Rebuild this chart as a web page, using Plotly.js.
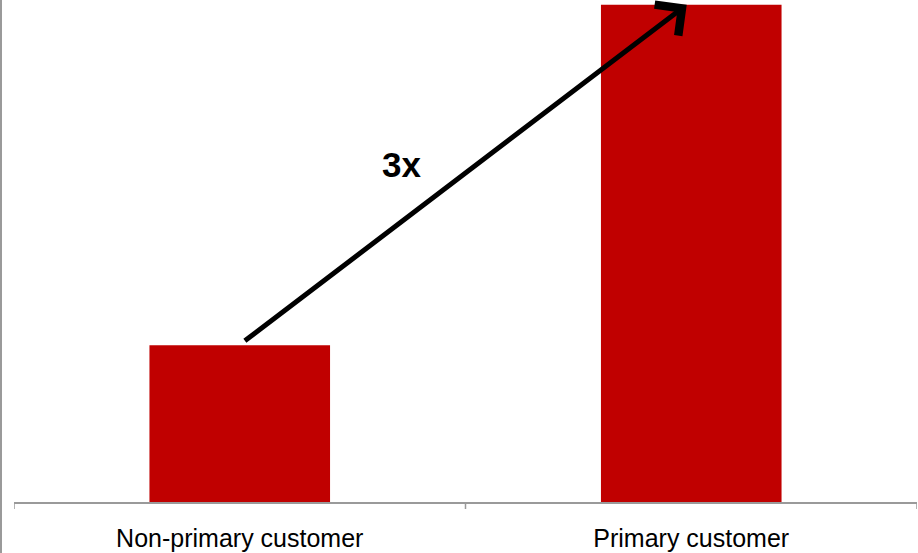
<!DOCTYPE html>
<html>
<head>
<meta charset="utf-8">
<script src="https://cdn.plot.ly/plotly-3.0.1.min.js"></script>
<style>
  html, body { margin: 0; padding: 0; background: #fff; }
  #chart { width: 918px; height: 553px; }
</style>
</head>
<body>
<div id="chart"></div>
<script>
// Customer segments and their relative values
const categories = ['Non-primary customer', 'Primary customer'];
const values = [1.0, 3.17];
const multiplierLabel = '3x';

const barColor = '#C00000';
const axisGrey = '#9a9a9a';

const data = [{
  type: 'bar',
  x: [0, 1],
  y: values,
  marker: { color: barColor },
  hoverinfo: 'skip'
}];

// Arrow runs from the top of the first bar to the top of the second
const arrow = {
  xref: 'x', yref: 'y', axref: 'x', ayref: 'y',
  x: 1 - 0.01, y: values[1],
  ax: 0 + 0.008, ay: values[0] + 0.02,
  text: '',
  showarrow: true,
  arrowhead: 4,
  arrowsize: 1.5,
  arrowwidth: 5,
  arrowcolor: '#000000',
  standoff: 0,
  startstandoff: 0
};

const label = {
  xref: 'x', yref: 'y',
  x: 0.358, y: 2.15,
  text: '<b>' + multiplierLabel + '</b>',
  showarrow: false,
  font: { family: 'Liberation Sans, Arial, sans-serif', size: 35, color: '#000' },
  xanchor: 'center', yanchor: 'middle'
};

const layout = {
  width: 918,
  height: 553,
  margin: { l: 14, r: 1, t: 0, b: 51, pad: 0 },
  paper_bgcolor: '#ffffff',
  plot_bgcolor: '#ffffff',
  showlegend: false,
  bargap: 0.6,
  xaxis: {
    type: 'linear',
    range: [-0.5, 1.5],
    tickvals: [0, 1],
    ticktext: categories,
    showgrid: false,
    zeroline: false,
    showline: true,
    linecolor: axisGrey,
    linewidth: 1.5,
    ticks: '',
    ticklabelstandoff: 13,
    tickfont: { family: 'Liberation Sans, Arial, sans-serif', size: 25, color: '#000' },
    fixedrange: true
  },
  yaxis: {
    range: [0, 3.2],
    showgrid: false,
    zeroline: false,
    showline: false,
    showticklabels: false,
    ticks: '',
    fixedrange: true
  },
  shapes: [
    // frame line at the left edge
    { type: 'line', xref: 'paper', yref: 'paper',
      x0: -13 / 903, x1: -13 / 903, y0: -51 / 502, y1: 1,
      line: { color: axisGrey, width: 2 } },
    // category boundary ticks under the axis
    ...[-0.5, 0.5, 1.5].map(v => ({
      type: 'line', xref: 'x', yref: 'paper',
      x0: v, x1: v, y0: 0, y1: -7 / 502,
      line: { color: axisGrey, width: 1.5 }
    }))
  ],
  annotations: [arrow, label]
};

Plotly.newPlot('chart', data, layout, { displayModeBar: false, staticPlot: true });
</script>
</body>
</html>
